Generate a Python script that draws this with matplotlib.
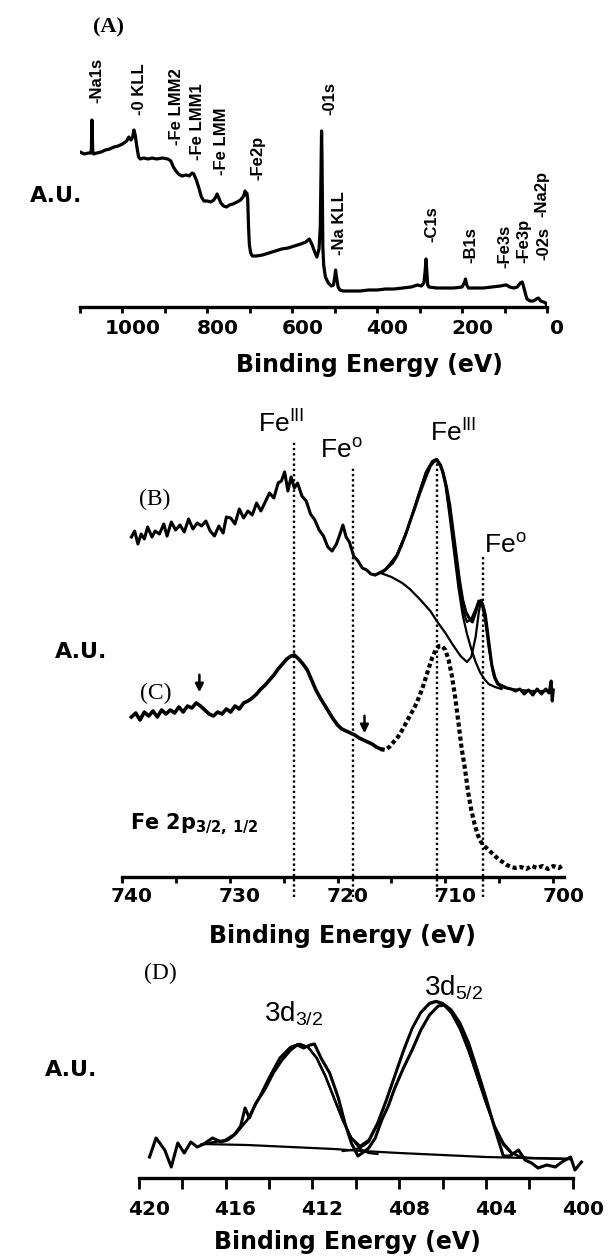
import matplotlib
matplotlib.use("Agg")
import matplotlib.pyplot as plt
import matplotlib.transforms as mtransforms
import numpy as np

W, H = 609, 1259

# ---- (A) survey spectrum: binding energy (eV) / intensity (a.u.)
survey_ev = [1100, 1090, 1080, 1074, 1073, 1072, 1071, 1070, 1068, 1060, 1050, 1040, 1030, 1020, 1010,
             1000, 990, 985, 980, 976, 973, 970, 966, 962, 958, 950, 940, 930, 920, 905, 893, 886,
             880, 874, 868, 860, 850, 843, 836, 832, 826, 820, 814, 808, 800, 792, 785, 780, 777,
             774, 768, 762, 755, 748, 740, 730, 722, 716, 713, 711, 709, 707, 705, 703, 701, 698,
             694, 685, 670, 655, 640, 625, 610, 595, 580, 568, 560, 554, 548, 542, 537, 534, 532,
             531, 530, 528, 526, 522, 515, 508, 503, 500, 498, 496, 492, 488, 480, 460, 440, 420,
             400, 380, 360, 340, 320, 305, 296, 290, 287, 285, 283, 281, 278, 260, 240, 220, 200,
             194, 192, 189, 185, 170, 150, 130, 110, 98, 95, 88, 78, 70, 63, 58, 55, 50, 47, 40,
             32, 25, 20, 15, 8, 3, 1]
survey_int = [155, 153, 154, 154, 160, 187, 170, 156, 153, 154, 155, 157, 158, 160, 161,
              163, 166, 170, 167, 170, 177, 172, 160, 150, 148, 149, 148, 149, 148, 149, 148, 146,
              140, 136, 133, 131, 132, 131, 134, 133, 127, 119, 110, 106, 106, 105, 107, 110, 113,
              110, 104, 101, 100, 102, 103, 105, 107, 110, 113, 116, 112, 114, 108, 80, 62, 54,
              51, 51, 52, 54, 56, 58, 59, 61, 63, 65, 68, 63, 56, 50, 58, 80, 140,
              176, 150, 60, 42, 30, 24, 21, 22, 30, 37, 30, 20, 17, 16, 16, 16, 17,
              17, 18, 18, 19, 20, 22, 21, 24, 36, 48, 35, 22, 20, 19, 19, 19, 20,
              25, 28, 22, 19, 19, 19, 20, 21, 22, 22, 20, 19, 20, 24, 25, 20, 12, 8, 6,
              6, 8, 9, 6, 5, 4, 2]
peak_names = ["-Na1s", "-0 KLL", "-Fe LMM2", "-Fe LMM1", "-Fe LMM", "-Fe2p", "-01s", "-Na KLL",
              "-C1s", "-B1s", "-Fe3s", "-Fe3p", "-02s", "-Na2p"]
peak_ev = [1060, 959, 872, 824, 766, 681, 511, 489, 271, 180, 99, 54, 7, 12]
peak_lab_y = [204, 192, 162, 147, 132, 127, 192, 52, 65, 44, 39, 44, 47, 90]

# ---- (B) / (C) Fe 2p region
b_ev = [739.1, 738.8, 738.5, 738.2, 737.9, 737.6, 737.2, 736.9, 736.5, 736.1, 735.8, 735.4, 735.0,
        734.6, 734.2, 733.8, 733.4, 733.0, 732.6, 732.2, 731.8, 731.4, 731.0, 730.6, 730.3, 729.9,
        729.5, 729.1, 728.7, 728.3, 727.9, 727.5, 727.1, 726.7, 726.3, 725.9, 725.5, 725.2, 724.9,
        724.6, 724.3, 724.0, 723.7, 723.3, 722.9, 722.5, 722.1, 721.7, 721.3, 720.9, 720.5, 720.1,
        719.8, 719.5, 719.2, 718.9, 718.5, 718.1, 717.7, 717.3, 716.9, 716.5, 716.1, 715.7, 715.3,
        714.9, 714.5, 714.1, 713.7, 713.3, 712.9, 712.5, 712.1, 711.7, 711.4, 711.1, 710.8, 710.5,
        710.2, 709.9, 709.6, 709.3, 709.0, 708.7, 708.4, 708.1, 707.8, 707.5, 707.2, 706.9, 706.6,
        706.3, 706.0, 705.7, 705.4, 705.1, 704.7, 704.3, 703.9, 703.5, 703.1, 702.7, 702.3, 701.9,
        701.5, 701.1, 700.7, 700.4, 700.2, 700.1, 700.0]
b_int = [340, 346, 333, 343, 338, 350, 340, 346, 343, 353, 341, 355, 347,
         352, 345, 358, 348, 354, 351, 356, 346, 341, 351, 344, 360, 359,
         353, 368, 359, 366, 362, 374, 366, 375, 384, 379, 394, 396, 405,
         386, 400, 389, 394, 381, 376, 363, 357, 347, 341, 330, 326, 333,
         342, 352, 340, 335, 321, 316, 309, 307, 303, 302, 304, 306, 310,
         314, 321, 331, 342, 355, 367, 380, 392, 403, 411, 415, 417, 412,
         404, 390, 372, 347, 322, 297, 277, 265, 259, 255, 265, 276, 274,
         262, 237, 212, 199, 193, 191, 189, 188, 186, 188, 183, 187, 182,
         188, 183, 188, 184, 196, 176, 187]
b_env_ev = [716.5, 715.5, 714.5, 713.5, 712.5, 711.8, 711.2, 710.8, 710.4, 710.0, 709.6, 709.2, 708.8,
            708.4, 708.0, 707.6, 707.2, 706.9, 706.6, 706.3, 706.0, 705.6, 705.2, 704.8, 704.0, 702.0,
            700.4]
b_env_int = [302, 308, 322, 348, 382, 405, 416, 418, 412, 395, 365, 330, 295,
             268, 255, 258, 268, 276, 272, 255, 230, 205, 194, 190, 188, 186, 186]
b_fe3_ev = [716.5, 715.5, 714.5, 713.5, 712.5, 711.8, 711.2, 710.8, 710.4, 710.0, 709.6, 709.2, 708.8,
            708.4, 708.0, 707.6, 707.2, 706.8, 706.4, 706.0, 705.4, 704.8]
b_fe3_int = [302, 308, 322, 348, 382, 405, 416, 418, 410, 392, 360, 325, 290,
             262, 243, 228, 215, 205, 198, 193, 190, 188]
b_fe0_ev = [716.0, 715.0, 714.0, 713.3, 712.3, 711.4, 710.8, 710.0, 709.3, 708.6, 708.0, 707.6, 707.2,
            706.9, 706.7, 706.4, 706.1, 705.8, 705.5, 705.2, 704.8]
b_fe0_int = [304, 300, 294, 288, 277, 266, 256, 244, 232, 221, 215, 220, 240,
             265, 277, 268, 245, 218, 200, 193, 190]

c_ev = [739.1, 738.7, 738.3, 737.9, 737.5, 737.1, 736.7, 736.3, 735.9, 735.5, 735.1, 734.7, 734.3,
        733.9, 733.5, 733.1, 732.7, 732.3, 731.9, 731.5, 731.1, 730.7, 730.3, 729.9, 729.5, 729.1,
        728.7, 728.3, 727.9, 727.5, 727.1, 726.7, 726.3, 725.9, 725.5, 725.1, 724.7, 724.3, 724.0,
        723.6, 723.2, 722.8, 722.4, 722.0, 721.6, 721.2, 720.8, 720.4, 720.0, 719.6, 719.2, 718.8,
        718.4, 718.0, 717.6, 717.2, 716.8, 716.4, 716.0, 715.6, 715.2, 714.8, 714.4, 714.0, 713.6,
        713.2, 712.8, 712.4, 712.0, 711.6, 711.2, 710.9, 710.6, 710.3, 710.0, 709.7, 709.4, 709.1,
        708.8, 708.5, 708.2, 707.9, 707.6, 707.3, 707.0, 706.7, 706.4, 706.1, 705.8, 705.5, 705.1,
        704.7, 704.3, 703.9, 703.5, 703.0, 702.5, 702.0, 701.5, 701.0, 700.5, 700.0, 699.5, 699.2]
c_int = [160, 164, 157, 165, 161, 166, 160, 167, 163, 167, 164, 170, 165,
         171, 169, 174, 171, 167, 163, 161, 165, 163, 168, 165, 171, 168,
         174, 176, 179, 183, 188, 192, 197, 202, 208, 213, 218, 221, 222,
         218, 213, 207, 197, 187, 179, 172, 165, 158, 152, 148, 146, 144,
         142, 139, 137, 135, 133, 130, 128, 127, 130, 135, 140, 147, 155,
         163, 171, 181, 193, 207, 220, 227, 231, 231, 227, 217, 201, 180,
         155, 129, 109, 85, 67, 53, 42, 35, 31, 28, 25, 22, 18,
         15, 12, 10, 9, 10, 8, 11, 9, 11, 8, 11, 9, 11]
ref_lines_ev = [724.0, 718.6, 710.8, 706.5]
ref_lines_top = [435, 410, 420, 320]
arrow_ev = [732.8, 717.5]
arrow_top = [205, 164]

# ---- (D) 3d region
d_ev = [419.5, 419.2, 418.8, 418.5, 418.2, 417.9, 417.6, 417.3, 417.0, 416.6, 416.2, 415.9, 415.6,
        415.3, 415.1, 414.9, 414.6, 414.2, 413.8, 413.4, 413.0, 412.7, 412.4, 412.1, 411.9, 411.6,
        411.2, 410.8, 410.5, 410.2, 409.9, 409.7, 409.4, 409.1, 408.8, 408.5, 408.2, 407.8, 407.4,
        407.0, 406.6, 406.2, 405.9, 405.6, 405.2, 404.8, 404.4, 404.0, 403.6, 403.2, 402.9, 402.5,
        402.2, 401.9, 401.6, 401.2, 400.8, 400.5, 400.1, 399.9, 399.6]
d_int = [21, 40, 28, 11, 35, 25, 36, 31, 34, 40, 36, 38, 43,
         52, 70, 60, 75, 88, 105, 118, 128, 133, 130, 133, 134, 120,
         105, 80, 55, 35, 22, 25, 30, 40, 58, 72, 90, 110, 128,
         148, 163, 172, 173, 168, 155, 135, 108, 80, 50, 22, 22, 28,
         18, 15, 10, 13, 11, 16, 21, 8, 16]
d_fit_ev = [417.0, 416.0, 415.5, 415.0, 414.5, 414.0, 413.5, 413.0, 412.6, 412.2, 411.8, 411.4, 411.0,
            410.6, 410.2, 409.8, 409.4, 409.0, 408.6, 408.2, 407.8, 407.4, 407.0, 406.6, 406.3, 406.0,
            405.6, 405.2, 404.8, 404.4, 404.0, 403.6, 403.2, 402.8, 402.4, 402.0, 400.1]
d_fit_int = [34, 38, 45, 58, 78, 100, 120, 131, 134, 131, 120, 102, 80,
             58, 40, 32, 38, 55, 78, 103, 128, 150, 166, 175, 177, 175,
             166, 150, 128, 102, 76, 52, 35, 25, 21, 20, 19]
d_c1_ev = [416.0, 415.5, 415.0, 414.5, 414.0, 413.5, 413.0, 412.6, 412.2, 411.8, 411.4, 411.0, 410.6,
           410.2, 409.8, 409.4, 409.0]
d_c1_int = [38, 45, 58, 78, 100, 120, 131, 134, 131, 120, 102, 80, 58,
            40, 29, 25, 24]
d_c2_ev = [410.6, 410.2, 409.8, 409.4, 409.0, 408.6, 408.2, 407.8, 407.4, 407.0, 406.6, 406.3, 406.0,
           405.6, 405.2, 404.8, 404.4, 404.0, 403.6, 403.2, 402.8]
d_c2_int = [27, 28, 30, 36, 53, 76, 101, 126, 149, 165, 174, 176, 174,
            165, 149, 127, 101, 75, 51, 33, 24]
d_bg_ev = [417.1, 415.0, 413.0, 411.0, 409.7, 408.0, 406.0, 404.0, 402.1, 400.1]
d_bg_int = [34, 33, 31, 29, 27, 25, 23, 21, 20, 19]

plt.rcParams["mathtext.fontset"] = "custom"
plt.rcParams["mathtext.rm"] = "Liberation Sans"
plt.rcParams["mathtext.it"] = "Liberation Sans:italic"
plt.rcParams["mathtext.bf"] = "DejaVu Sans:bold"

fig = plt.figure(figsize=(W / 100, H / 100), dpi=100)
fig.patch.set_facecolor("white")


def add_px_axes(left, right, top, bottom):
    return fig.add_axes([left / W, 1 - bottom / H, (right - left) / W, (bottom - top) / H])


def put(x, y, s, **kw):
    fig.text(x / W, 1 - y / H, s, **kw)


def style_axis(ax, major, minor, tick_len, tick_pad, label_pad, label_x=0.5):
    for side in ["left", "right", "top"]:
        ax.spines[side].set_visible(False)
    ax.spines["bottom"].set_position(("data", 0))
    ax.spines["bottom"].set_linewidth(2.4)
    ax.set_yticks([])
    ax.set_xticks(major)
    ax.set_xticks(minor, minor=True)
    ax.tick_params(axis="x", which="both", direction="out", length=tick_len, width=2.0,
                   pad=tick_pad)
    for lbl in ax.get_xticklabels():
        lbl.set_fontfamily("DejaVu Sans")
        lbl.set_fontweight("bold")
        lbl.set_fontsize(14.5)
    offset = mtransforms.ScaledTranslation(0.10, 0, fig.dpi_scale_trans)
    for lbl in ax.get_xticklabels():
        lbl.set_transform(lbl.get_transform() + offset)
    ax.set_xlabel("Binding Energy (eV)", fontsize=17, fontweight="bold",
                  family="DejaVu Sans", labelpad=label_pad)
    ax.xaxis.label.set_x(label_x)
    ax.patch.set_alpha(0)


# ---------------- panel A
axA = add_px_axes(80, 547, 40, 320)
axA.set_xlim(1100, 0)
axA.set_ylim(-13, 267)
axA.plot(survey_ev, survey_int, color="black", lw=2.3)
style_axis(axA, np.arange(0, 1001, 200), np.arange(100, 1101, 200), 4, 4.5, 11, label_x=0.62)
axA.spines["bottom"].set_bounds(1100, 0)
for name, ev, yy in zip(peak_names, peak_ev, peak_lab_y):
    axA.text(ev, yy, name, rotation=90, ha="center", va="bottom", fontsize=12,
             fontweight="bold", family=["Liberation Sans Narrow", "Liberation Sans"])

# ---------------- panel B / C
axB = add_px_axes(121.7, 564.1, 400, 900)
axB.set_xlim(740, 699)
axB.set_ylim(-23, 477)
axB.plot(b_ev, b_int, color="black", lw=2.2)
axB.plot(b_env_ev, b_env_int, color="black", lw=1.6)
axB.plot(b_fe3_ev, b_fe3_int, color="black", lw=1.6)
axB.plot(b_fe0_ev, b_fe0_int, color="black", lw=1.6)
split = c_ev.index(716.0)
axB.plot(c_ev[:split + 1], c_int[:split + 1], color="black", lw=2.6)
axB.plot(c_ev[split:], c_int[split:], color="black", lw=3.0, linestyle=(0, (1.0, 0.7)))
for ev, top in zip(ref_lines_ev, ref_lines_top):
    axB.plot([ev, ev], [-20, top], color="black", lw=1.7, linestyle=(0, (1, 1.2)))
for ev, top in zip(arrow_ev, arrow_top):
    axB.annotate("", xy=(ev, top - 23), xytext=(ev, top),
                 arrowprops=dict(arrowstyle="-|>", lw=1.8, color="black", mutation_scale=12))
style_axis(axB, np.arange(700, 741, 10), np.arange(705, 740, 10), 4, 3.5, 13)
axB.spines["bottom"].set_bounds(740, 699)

# ---------------- panel D
axD = add_px_axes(138.7, 583.6, 950, 1190)
axD.set_xlim(420, 399.5)
axD.set_ylim(-12, 228)
axD.plot(d_ev, d_int, color="black", lw=2.2)
axD.plot(d_fit_ev, d_fit_int, color="black", lw=1.8)
axD.plot(d_c1_ev, d_c1_int, color="black", lw=1.6)
axD.plot(d_c2_ev, d_c2_int, color="black", lw=1.6)
axD.plot(d_bg_ev, d_bg_int, color="black", lw=1.6)
style_axis(axD, np.arange(400, 421, 4), np.arange(402, 420, 4), 8, 8, 8, label_x=0.47)
axD.spines["bottom"].set_bounds(420, 400)

# ---------------- labels
serif = "Liberation Serif"
put(108, 27, "(A)", fontsize=16, fontweight="bold", family=serif, ha="center", va="center")
put(155, 499, "(B)", fontsize=17, family=serif, ha="center", va="center")
put(156, 693, "(C)", fontsize=17, family=serif, ha="center", va="center")
put(160, 973, "(D)", fontsize=17, family=serif, ha="center", va="center")

for yy, xx in [(196, 30), (652, 55), (1070, 45)]:
    put(xx, yy, "A.U.", fontsize=16, fontweight="bold", family="DejaVu Sans", ha="left", va="center")

fe_kw = dict(fontsize=19, family="Liberation Sans", ha="left", va="baseline")
put(258, 433, r"Fe$^{\mathrm{III}}$", **fe_kw)
put(320, 458, r"Fe$^{\mathrm{o}}$", **fe_kw)
put(430, 442, r"Fe$^{\mathrm{III}}$", **fe_kw)
put(484, 553, r"Fe$^{\mathrm{o}}$", **fe_kw)
put(130, 830, r"Fe 2p$_{\mathbf{3/2,\ 1/2}}$", fontsize=15, fontweight="bold",
    family="DejaVu Sans", ha="left", va="baseline")

put(264, 1022, r"3d$_{\mathit{3/2}}$", fontsize=20, family="Liberation Sans", ha="left", va="baseline")
put(424, 995, r"3d$_{\mathit{5/2}}$", fontsize=20, family="Liberation Sans", ha="left", va="baseline")

fig.savefig("out.png", dpi=100, facecolor="white")
